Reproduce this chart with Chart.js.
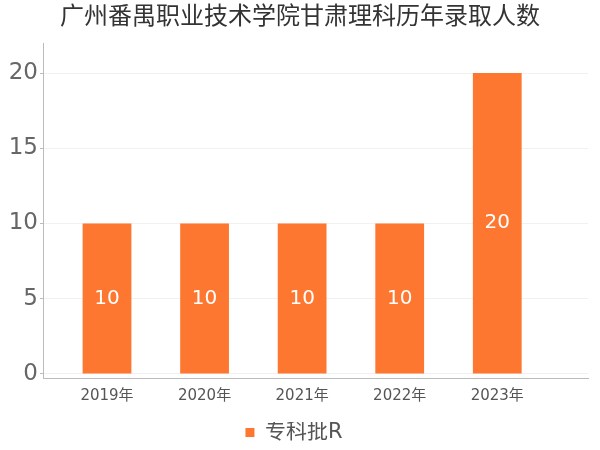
<!DOCTYPE html>
<html>
<head>
<meta charset="utf-8">
<script src="https://cdn.jsdelivr.net/npm/chart.js@4/dist/chart.umd.min.js"></script>
<style>
  html, body { margin: 0; padding: 0; background: #fff; }
  #wrap { width: 600px; height: 450px; }
</style>
</head>
<body>
<div id="wrap"><canvas id="c" width="600" height="450"></canvas></div>
<script>
const years = ['2019年', '2020年', '2021年', '2022年', '2023年'];
const counts = [10, 10, 10, 10, 20];
const yTicks = [0, 5, 10, 15, 20];
const seriesName = '专科批R';
const titleText = '广州番禺职业技术学院甘肃理科历年录取人数';

const FONT = "'DejaVu Sans', 'Noto Sans CJK SC', sans-serif";
const BAR = '#fe7731';

// title centred on the whole canvas, numbers inside bars
const extras = {
  id: 'extras',
  afterDraw(chart) {
    const { ctx } = chart;
    ctx.save();
    ctx.fillStyle = '#333';
    ctx.font = '24px ' + FONT;
    ctx.textAlign = 'center';
    ctx.textBaseline = 'middle';
    ctx.fillText(titleText, chart.width / 2, 18);
    ctx.restore();
  },
  afterDatasetsDraw(chart) {
    const { ctx } = chart;
    const meta = chart.getDatasetMeta(0);
    ctx.save();
    ctx.fillStyle = '#fff';
    ctx.font = '20px ' + FONT;
    ctx.textAlign = 'center';
    ctx.textBaseline = 'middle';
    meta.data.forEach((bar, i) => {
      ctx.fillText(String(counts[i]), bar.x, (bar.y + bar.base) / 2);
    });
    ctx.restore();
  }
};

new Chart(document.getElementById('c'), {
  type: 'bar',
  data: {
    datasets: [{
      label: seriesName,
      data: counts.map((v, i) => ({ x: i, y: v })),
      backgroundColor: BAR,
      borderWidth: 0,
      barPercentage: 0.5,
      categoryPercentage: 1
    }]
  },
  options: {
    responsive: false,
    animation: false,
    layout: { padding: { left: 0, right: 12, top: 43, bottom: -3 } },
    plugins: {
      title: { display: false },
      legend: {
        position: 'bottom',
        labels: {
          color: '#555',
          font: { family: FONT, size: 21 },
          boxWidth: 9,
          boxHeight: 9,
          padding: 0
        }
      },
      tooltip: { enabled: false }
    },
    scales: {
      x: {
        type: 'linear',
        offset: false,
        min: -0.656,
        max: 4.93,
        afterBuildTicks(axis) { axis.ticks = years.map((_, i) => ({ value: i })); },
        afterFit(axis) { axis.height = 44; },
        ticks: {
          color: '#555',
          font: { family: FONT, size: 15 },
          padding: 4,
          callback: v => years[v] || ''
        },
        grid: { display: false, drawTicks: true, tickLength: 5 },
        border: { color: '#bbb' }
      },
      y: {
        min: -0.27,
        max: 22,
        afterBuildTicks(axis) { axis.ticks = yTicks.map(v => ({ value: v })); },
        afterFit(axis) { axis.width = 43; },
        ticks: {
          color: '#666',
          font: { family: FONT, size: 23 },
          padding: 2
        },
        grid: { color: '#f1f1f1', tickLength: 3, tickColor: '#bbb' },
        border: { color: '#bbb' }
      }
    }
  },
  plugins: [extras]
});
</script>
</body>
</html>
